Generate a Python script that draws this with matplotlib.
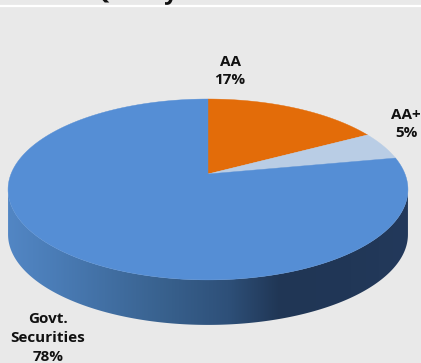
import numpy as np
import matplotlib
matplotlib.use("Agg")
import matplotlib.pyplot as plt
from matplotlib.colors import LinearSegmentedColormap
from matplotlib.patches import Polygon

# Portfolio split by rating, in percent, clockwise from twelve o'clock
categories = ["AA", "AA+", "Govt.\nSecurities"]
shares = [17, 5, 78]
slice_colors = ["#E36C09", "#B9CDE5", "#558ED5"]
label_spots = [(230, 71), (406, 124), (48, 338)]

W, H = 421, 363
BG = "#E9E9E9"

# Tilted disc: centre in pixels, half-width, half-height and perspective strength
CX, CY = 208.0, 174.0
RX, RY, PERSP = 197.0, 87.8, 0.171
DEPTH = 45.0


def project(theta):
    """Map clockwise-from-top angles on the disc to pixel positions."""
    u, v = np.sin(theta), np.cos(theta)
    w = 1 + PERSP * v
    return CX + RX * u / w, CY - RY * v / w


fig = plt.figure(figsize=(W / 100, H / 100), dpi=100, facecolor=BG)
ax = fig.add_axes([0, 0, 1, 1])
ax.set_xlim(0, W)
ax.set_ylim(H, 0)
ax.axis("off")

# Title strip cut off by the top edge, with its white rule
ax.text(135, -1, "Quality", family="Open Sans", fontweight="bold", fontsize=17,
        ha="center", va="baseline", color="#111111", zorder=1)
ax.plot([0, W], [5.5, 5.5], color="white", lw=1.6, zorder=2)

# Rim of the disc: a horizontal shade clipped to the lower outline
t = np.linspace(0, 2 * np.pi, 721)
ex, ey = project(t)
right_angle = t[np.argmax(ex)]
left_angle = t[np.argmin(ex)]
lower = np.linspace(right_angle, left_angle, 300)
lx, ly = project(lower)
rim = np.vstack([np.column_stack([lx, ly]),
                 np.column_stack([lx[::-1], ly[::-1] + DEPTH])])
rim_cmap = LinearSegmentedColormap.from_list(
    "rim",
    [(0.0, "#5286C4"), (0.12, "#4A7CB6"), (0.38, "#39628F"), (0.55, "#2E5079"),
     (0.68, "#203655"), (0.86, "#213757"), (1.0, "#23395B")],
)
shade = ax.imshow(np.linspace(0, 1, 256)[None, :], cmap=rim_cmap, aspect="auto",
                  extent=(ex.min(), ex.max(), ey.max() + DEPTH, ey.min()),
                  zorder=3)
clip = Polygon(rim, closed=True, transform=ax.transData, fc="none", ec="none")
ax.add_patch(clip)
shade.set_clip_path(clip)
ax.set_xlim(0, W)
ax.set_ylim(H, 0)

# Top face, one slice per category
edges = np.cumsum([0] + shares) / sum(shares) * 2 * np.pi
for start, stop, color in zip(edges[:-1], edges[1:], slice_colors):
    arc = np.linspace(start, stop, 300)
    x, y = project(arc)
    ax.fill(np.r_[CX, x], np.r_[CY, y], color=color, lw=0.3, zorder=4)

# Slice labels
for name, share, (tx, ty) in zip(categories, shares, label_spots):
    ax.text(tx, ty, f"{name}\n{share}%", family="Open Sans", fontweight="bold",
            fontsize=11, ha="center", va="center", color="#111111",
            linespacing=1.42, zorder=5, clip_on=False)

fig.savefig("out.png", dpi=100, facecolor=BG)
